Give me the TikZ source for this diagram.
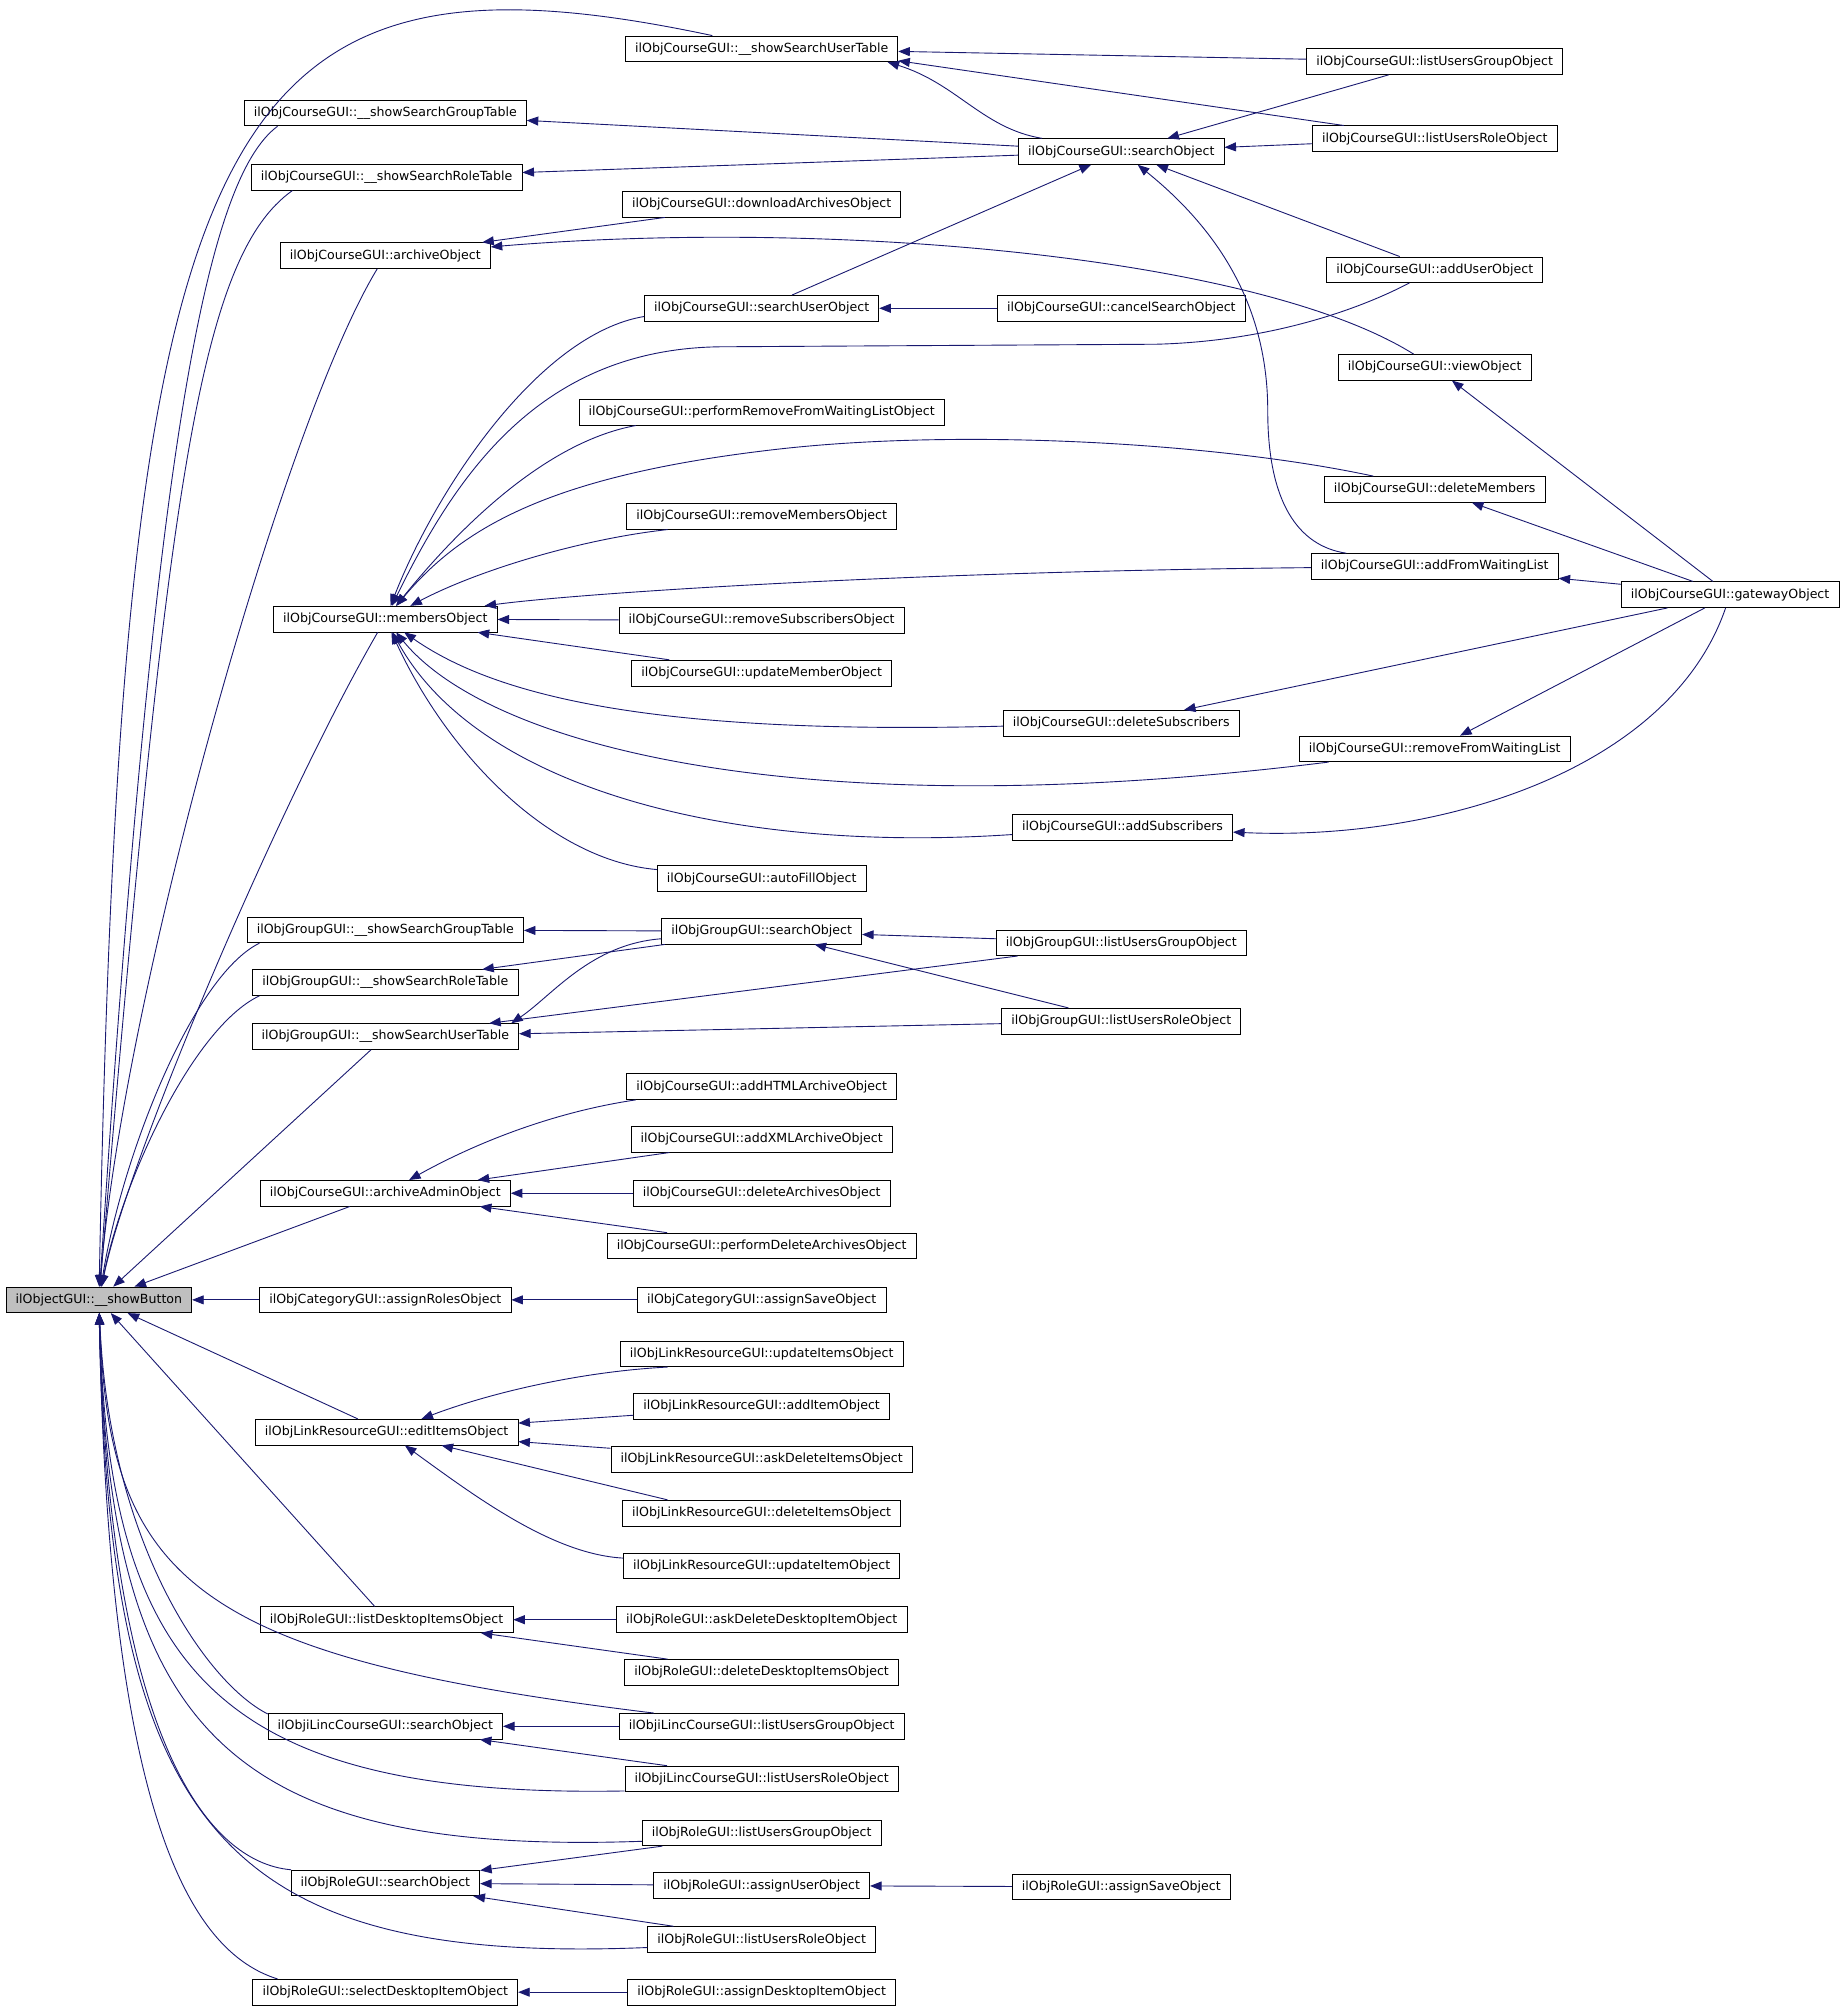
\documentclass[tikz,border=0pt]{standalone}
\usepackage{fontspec}
\setmainfont{DejaVu Sans}
\usepackage{tikz}
\usetikzlibrary{arrows.meta}
\definecolor{edgeblue}{RGB}{25,25,112}
\definecolor{rootgray}{RGB}{191,191,191}

\begin{document}
\begin{tikzpicture}[x=1pt,y=1pt]
\useasboundingbox (0,0) rectangle (1436,-1568);
\begin{scope}[every node/.style={rectangle,draw,fill=white,line width=0.6pt,
    minimum height=20pt,inner xsep=7.5pt,inner ysep=0pt,
    font=\fontsize{9.8}{11}\selectfont}]
    \node[fill=rootgray] (showButton) at (77,-1012) {ilObjectGUI::\_\_showButton};
    % first column
    \node (cShowGroupTbl) at (300,-88) {ilObjCourseGUI::\_\_showSearchGroupTable};
    \node (cShowRoleTbl) at (301,-138) {ilObjCourseGUI::\_\_showSearchRoleTable};
    \node (cArchive) at (300,-199) {ilObjCourseGUI::archiveObject};
    \node (cMembers) at (300,-482) {ilObjCourseGUI::membersObject};
    \node (gShowGroupTbl) at (300,-724) {ilObjGroupGUI::\_\_showSearchGroupTable};
    \node (gShowRoleTbl) at (300,-765) {ilObjGroupGUI::\_\_showSearchRoleTable};
    \node (gShowUserTbl) at (300,-807) {ilObjGroupGUI::\_\_showSearchUserTable};
    \node (cArchiveAdmin) at (300,-929) {ilObjCourseGUI::archiveAdminObject};
    \node (catAssignRoles) at (300,-1012) {ilObjCategoryGUI::assignRolesObject};
    \node (lEditItems) at (301,-1115) {ilObjLinkResourceGUI::editItemsObject};
    \node (rListDesktop) at (301,-1261) {ilObjRoleGUI::listDesktopItemsObject};
    \node (iSearch) at (300,-1344) {ilObjiLincCourseGUI::searchObject};
    \node (rSearch) at (300,-1466) {ilObjRoleGUI::searchObject};
    \node (rSelectDesktop) at (300,-1551) {ilObjRoleGUI::selectDesktopItemObject};
    % second column
    \node (cShowUserTbl) at (593,-38) {ilObjCourseGUI::\_\_showSearchUserTable};
    \node (cDownload) at (593,-159) {ilObjCourseGUI::downloadArchivesObject};
    \node (cSearchUser) at (593,-240) {ilObjCourseGUI::searchUserObject};
    \node (cPerformRemove) at (593,-321) {ilObjCourseGUI::performRemoveFromWaitingListObject};
    \node (cRemoveMembers) at (593,-402) {ilObjCourseGUI::removeMembersObject};
    \node (cRemoveSubscr) at (593,-483) {ilObjCourseGUI::removeSubscribersObject};
    \node (cUpdateMember) at (593,-524) {ilObjCourseGUI::updateMemberObject};
    \node (cAutoFill) at (593,-684) {ilObjCourseGUI::autoFillObject};
    \node (gSearch) at (593,-725) {ilObjGroupGUI::searchObject};
    \node (cAddHTML) at (593,-846) {ilObjCourseGUI::addHTMLArchiveObject};
    \node (cAddXML) at (593,-887) {ilObjCourseGUI::addXMLArchiveObject};
    \node (cDeleteArch) at (593,-929) {ilObjCourseGUI::deleteArchivesObject};
    \node (cPerformDelete) at (593,-970) {ilObjCourseGUI::performDeleteArchivesObject};
    \node (catAssignSave) at (593,-1012) {ilObjCategoryGUI::assignSaveObject};
    \node (lUpdateItems) at (593,-1054) {ilObjLinkResourceGUI::updateItemsObject};
    \node (lAddItem) at (593,-1095) {ilObjLinkResourceGUI::addItemObject};
    \node (lAskDelete) at (593,-1136) {ilObjLinkResourceGUI::askDeleteItemsObject};
    \node (lDeleteItems) at (593,-1178) {ilObjLinkResourceGUI::deleteItemsObject};
    \node (lUpdateItem) at (593,-1219) {ilObjLinkResourceGUI::updateItemObject};
    \node (rAskDeleteDesktop) at (593,-1261) {ilObjRoleGUI::askDeleteDesktopItemObject};
    \node (rDeleteDesktop) at (593,-1302) {ilObjRoleGUI::deleteDesktopItemsObject};
    \node (iListGroup) at (593,-1344) {ilObjiLincCourseGUI::listUsersGroupObject};
    \node (iListRole) at (593,-1385) {ilObjiLincCourseGUI::listUsersRoleObject};
    \node (rListGroup) at (593,-1427) {ilObjRoleGUI::listUsersGroupObject};
    \node (rAssignUser) at (593,-1468) {ilObjRoleGUI::assignUserObject};
    \node (rListRole) at (593,-1510) {ilObjRoleGUI::listUsersRoleObject};
    \node (rAssignDesktop) at (593,-1551) {ilObjRoleGUI::assignDesktopItemObject};
    % third column
    \node (cSearch) at (873,-118) {ilObjCourseGUI::searchObject};
    \node (cCancelSearch) at (873,-240) {ilObjCourseGUI::cancelSearchObject};
    \node (cDeleteSubscr) at (873,-563) {ilObjCourseGUI::deleteSubscribers};
    \node (cAddSubscr) at (874,-644) {ilObjCourseGUI::addSubscribers};
    \node (gListGroup) at (873,-734) {ilObjGroupGUI::listUsersGroupObject};
    \node (gListRole) at (873,-795) {ilObjGroupGUI::listUsersRoleObject};
    \node (rAssignSave) at (873,-1469) {ilObjRoleGUI::assignSaveObject};
    % fourth column
    \node (cListGroup) at (1117,-48) {ilObjCourseGUI::listUsersGroupObject};
    \node (cListRole) at (1117,-108) {ilObjCourseGUI::listUsersRoleObject};
    \node (cAddUser) at (1117,-210) {ilObjCourseGUI::addUserObject};
    \node (cView) at (1117,-286) {ilObjCourseGUI::viewObject};
    \node (cDeleteMembers) at (1117,-381) {ilObjCourseGUI::deleteMembers};
    \node (cAddFromWL) at (1117,-441) {ilObjCourseGUI::addFromWaitingList};
    \node (cRemoveFromWL) at (1117,-583) {ilObjCourseGUI::removeFromWaitingList};
    \node (cGateway) at (1347,-463) {ilObjCourseGUI::gatewayObject};
\end{scope}

\begin{scope}[>={Triangle[length=9pt,width=7pt]}, color=edgeblue, line width=0.7pt,
              every edge/.style={draw}]
    % callers of showButton
    \draw [<-] (showButton) .. controls (95,-90) and (165,55) .. (cShowUserTbl.165);
    \draw [<-] (showButton) .. controls (120,-350) and (160,-140) .. (cShowGroupTbl.-173);
    \draw [<-] (showButton) .. controls (130,-380) and (155,-200) .. (cShowRoleTbl.-172);
    \draw [<-] (showButton) .. controls (95,-780) and (220,-330) .. (cArchive);
    \draw [<-] (showButton) .. controls (100,-900) and (220,-620) .. (cMembers);
    \draw [<-] (showButton) .. controls (95,-900) and (150,-760) .. (gShowGroupTbl.-174);
    \draw [<-] (showButton) .. controls (95,-920) and (150,-800) .. (gShowRoleTbl.-174);
    \path [<-] (showButton) edge (gShowUserTbl);
    \path [<-] (showButton) edge (cArchiveAdmin);
    \path [<-] (showButton) edge (catAssignRoles);
    \path [<-] (showButton) edge (lEditItems);
    \path [<-] (showButton) edge (rListDesktop);
    \draw [<-] (showButton) .. controls (85,-1230) and (150,-1290) .. (iListGroup.173);
    \draw [<-] (showButton) .. controls (85,-1200) and (160,-1310) .. (iSearch.174);
    \draw [<-] (showButton) .. controls (85,-1300) and (170,-1400) .. (iListRole.-175);
    \draw [<-] (showButton) .. controls (85,-1340) and (170,-1445) .. (rListGroup.-176);
    \draw [<-] (showButton) .. controls (85,-1350) and (160,-1450) .. (rSearch.172);
    \draw [<-] (showButton) .. controls (85,-1420) and (170,-1530) .. (rListRole.-176);
    \draw [<-] (showButton) .. controls (85,-1420) and (150,-1520) .. (rSelectDesktop.173);
    % course search tables
    \path [<-] (cShowUserTbl) edge (cListGroup);
    \path [<-] (cShowUserTbl.-5) edge (cListRole);
    \draw [<-] (cShowUserTbl.-6) .. controls (745,-65) and (765,-100) .. (cSearch);
    \path [<-] (cShowGroupTbl) edge (cSearch);
    \path [<-] (cShowRoleTbl) edge (cSearch);
    \path [<-] (cSearch) edge (cListGroup);
    \path [<-] (cSearch) edge (cListRole);
    \path [<-] (cSearch) edge (cAddUser);
    \path [<-] (cSearch) edge (cSearchUser);
    \draw [<-] (cSearch) .. controls (950,-180) and (987,-240) .. (987,-320)
        .. controls (987,-390) and (1010,-425) .. (cAddFromWL);
    \path [<-] (cSearchUser) edge (cCancelSearch);
    % archives
    \path [<-] (cArchive) edge (cDownload);
    \draw [<-] (cArchive) .. controls (650,-170) and (980,-200) .. (cView);
    % members
    \draw [<-] (cMembers) .. controls (340,-380) and (420,-260) .. (cSearchUser.-176);
    \draw [<-] (cMembers) .. controls (355,-370) and (420,-272) .. (560,-270)
        -- (900,-268) .. controls (980,-266) and (1050,-245) .. (cAddUser);
    \draw [<-] (cMembers) .. controls (350,-420) and (420,-345) .. (cPerformRemove.-174);
    \draw [<-] (cMembers) .. controls (360,-410) and (430,-370) .. (603,-350)
        .. controls (750,-333) and (950,-345) .. (cDeleteMembers);
    \draw [<-] (cMembers) .. controls (370,-445) and (450,-420) .. (cRemoveMembers.-172);
    \draw [<-] (cMembers) .. controls (450,-462) and (700,-445) .. (cAddFromWL);
    \path [<-] (cMembers) edge (cRemoveSubscr);
    \path [<-] (cMembers) edge (cUpdateMember);
    \draw [<-] (cMembers) .. controls (390,-545) and (520,-572) .. (cDeleteSubscr);
    \draw [<-] (cMembers) .. controls (380,-580) and (620,-645) .. (cRemoveFromWL);
    \draw [<-] (cMembers) .. controls (370,-610) and (560,-665) .. (cAddSubscr);
    \draw [<-] (cMembers) .. controls (350,-590) and (430,-670) .. (cAutoFill);
    % gateway
    \path [<-] (cView) edge (cGateway);
    \path [<-] (cDeleteMembers) edge (cGateway);
    \path [<-] (cAddFromWL) edge (cGateway);
    \path [<-] (cDeleteSubscr) edge (cGateway);
    \path [<-] (cRemoveFromWL) edge (cGateway);
    \draw [<-] (cAddSubscr) .. controls (1120,-655) and (1300,-600) .. (cGateway);
    % group
    \path [<-] (gShowGroupTbl) edge (gSearch);
    \path [<-] (gShowRoleTbl) edge (gSearch);
    \draw [<-] (gShowUserTbl.6) .. controls (430,-775) and (460,-735) .. (gSearch);
    \path [<-] (gShowUserTbl) edge (gListGroup);
    \path [<-] (gShowUserTbl) edge (gListRole);
    \path [<-] (gSearch) edge (gListGroup);
    \path [<-] (gSearch) edge (gListRole);
    % archive admin, category
    \draw [<-] (cArchiveAdmin) .. controls (370,-890) and (430,-866) .. (cAddHTML.-174);
    \path [<-] (cArchiveAdmin) edge (cAddXML);
    \path [<-] (cArchiveAdmin) edge (cDeleteArch);
    \path [<-] (cArchiveAdmin) edge (cPerformDelete);
    \path [<-] (catAssignRoles) edge (catAssignSave);
    % link resource
    \draw [<-] (lEditItems) .. controls (380,-1085) and (450,-1068) .. (lUpdateItems.-172);
    \path [<-] (lEditItems) edge (lAddItem);
    \path [<-] (lEditItems) edge (lAskDelete);
    \path [<-] (lEditItems) edge (lDeleteItems.172);
    \draw [<-] (lEditItems) .. controls (370,-1165) and (430,-1210) .. (lUpdateItem);
    % role, ilinc
    \path [<-] (rListDesktop) edge (rAskDeleteDesktop);
    \path [<-] (rListDesktop) edge (rDeleteDesktop);
    \path [<-] (iSearch) edge (iListGroup);
    \path [<-] (iSearch) edge (iListRole);
    \path [<-] (rSearch) edge (rListGroup);
    \path [<-] (rSearch) edge (rAssignUser);
    \path [<-] (rSearch) edge (rListRole);
    \path [<-] (rAssignUser) edge (rAssignSave);
    \path [<-] (rSelectDesktop) edge (rAssignDesktop);
\end{scope}
\end{tikzpicture}
\end{document}
